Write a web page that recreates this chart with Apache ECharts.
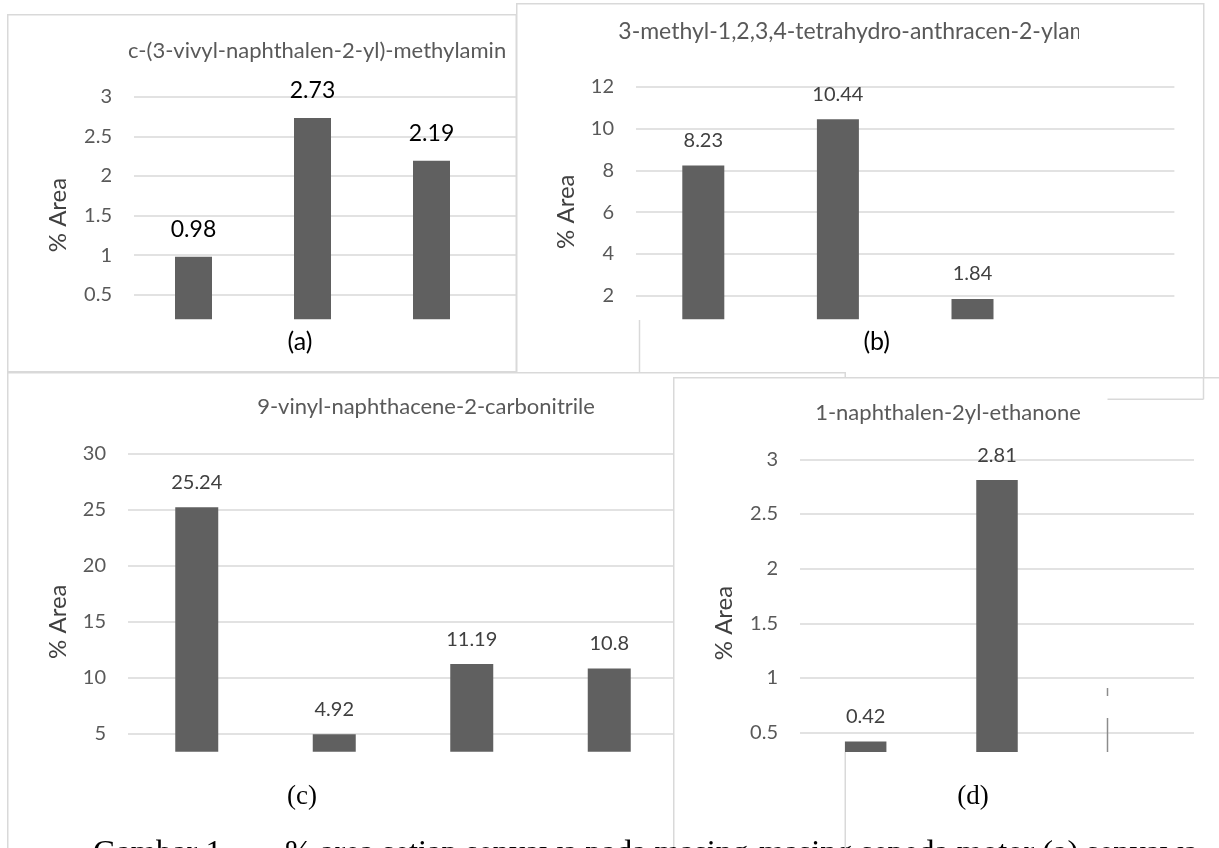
<!DOCTYPE html>
<html><head><meta charset="utf-8">
<script src="https://cdn.jsdelivr.net/npm/echarts@6/dist/echarts.min.js"></script>
<style>
html,body{margin:0;padding:0;background:#fff;width:1219px;height:848px;overflow:hidden;}
.p{position:absolute;}
</style></head><body>
<div id="pa" class="p" style="left:7px;top:14px;width:610px;height:358px;background:#fff"></div>
<div id="pb" class="p" style="left:516px;top:3px;width:690px;height:398px;background:#fff"></div>
<div id="pc" class="p" style="left:7px;top:372px;width:840px;height:476px;background:#fff"></div>
<div id="pd" class="p" style="left:673px;top:377px;width:546px;height:471px;background:#fff"></div>
<div id="ov" class="p" style="left:0;top:0;width:1219px;height:848px;pointer-events:none"></div>
<script>
// ---- data ----
const catsA = ['Motor 1', 'Motor 2', 'Motor 3', 'Motor 4'];
const valuesA = [0.98, 2.73, 2.19, '-'];
const catsB = ['Motor 1', 'Motor 2', 'Motor 3', 'Motor 4'];
const valuesB = [8.23, 10.44, 1.84, '-'];
const catsC = ['Motor 1', 'Motor 2', 'Motor 3', 'Motor 4'];
const valuesC = [25.24, 4.92, 11.19, 10.8];
const catsD = ['Motor 1', 'Motor 2', 'Motor 3'];
const valuesD = [0.42, 2.81, '-'];
const titleA = 'c-(3-vivyl-naphthalen-2-yl)-methylamin';
const titleB = '3-methyl-1,2,3,4-tetrahydro-anthracen-2-ylamine';
const titleC = '9-vinyl-naphthacene-2-carbonitrile';
const titleD = '1-naphthalen-2yl-ethanone';
const yName = '% Area';
const caption1 = 'Gambar 1.';
const caption2 = '% area setiap senyawa pada masing-masing sepeda motor (a) senyawa';

const SANS = 'Lato';
const SERIF = 'Liberation Serif';
const GRID = '#d9d9d9';

function line(x1, y1, x2, y2, color, w, z) {
  return {type: 'line', z: z || 120, silent: true,
    shape: {x1: x1, y1: y1, x2: x2, y2: y2},
    style: {stroke: color || GRID, lineWidth: w || 1.5}};
}
function txt(s, x, y, opt) {
  return Object.assign({type: 'text', z: 110, silent: true, x: x, y: y,
    style: Object.assign({text: s, fill: '#595959', font: '22px ' + SANS, align: 'center', verticalAlign: 'middle'}, opt.style || {})},
    opt.rotation ? {rotation: opt.rotation} : {});
}
function rect(x, y, w, h, z) {
  return {type: 'rect', z: z || 100, silent: true, shape: {x: x, y: y, width: w, height: h}, style: {fill: '#fff'}};
}

function panel(o) {
  return {
    animation: false,
    grid: {left: o.gl, top: o.gt, width: o.gw, height: o.gh},
    xAxis: {type: 'category', data: o.cats, boundaryGap: true,
      axisLine: {show: false}, axisTick: {show: false}, axisLabel: {show: false}, splitLine: {show: false}},
    yAxis: {type: 'value', min: 0, max: o.max, interval: o.interval,
      axisLine: {show: false}, axisTick: {show: false},
      axisLabel: {showMinLabel: false, margin: 22, color: '#595959', fontFamily: SANS, fontSize: o.tickSize},
      splitLine: {lineStyle: {color: GRID, width: 1.5}}},
    series: [{type: 'bar', data: o.values, barWidth: o.bw,
      itemStyle: {color: '#606060'},
      label: {show: true, position: 'top', distance: o.ld, color: o.lc, fontFamily: SANS, fontSize: o.ls}}],
    graphic: o.graphic
  };
}

const chA = echarts.init(document.getElementById('pa'));
chA.setOption(panel({
  cats: catsA, values: valuesA, max: 3, interval: 0.5,
  gl: 127, gt: 82.7, gw: 476, gh: 237.6, bw: 37, tickSize: 20, ld: 16, lc: '#000', ls: 23,
  graphic: [
    rect(115, 305.3, 495, 20),
    {type: 'rect', z: 120, silent: true, shape: {x: 0.75, y: 0.75, width: 508.5, height: 357}, style: {fill: 'none', stroke: GRID, lineWidth: 1.5}},
    txt(titleA, 121, 36.7, {style: {align: 'left'}}),
    txt(yName, 51.3, 201, {rotation: Math.PI / 2, style: {fill: '#404040', font: '24px ' + SANS}}),
    txt('(a)', 293, 327.7, {style: {fill: '#000', font: '25px ' + SANS}})
  ]
}));

const chB = echarts.init(document.getElementById('pb'));
chB.setOption(panel({
  cats: catsB, values: valuesB, max: 12, interval: 2,
  gl: 120, gt: 83.7, gw: 538.4, gh: 250.8, bw: 42, tickSize: 20, ld: 15, lc: '#404040', ls: 20,
  graphic: [
    rect(110, 316.3, 560, 22),
    txt(titleB, 102.3, 28.7, {style: {align: 'left', font: '23px ' + SANS}}),
    rect(563, 8, 121, 42, 115),
    {type: 'rect', z: 120, silent: true, shape: {x: 0.75, y: 0.75, width: 687, height: 395.5}, style: {fill: 'none', stroke: GRID, lineWidth: 1.5}},
    line(123.5, 317, 123.5, 369),
    txt(yName, 50.7, 208.7, {rotation: Math.PI / 2, style: {fill: '#404040', font: '24px ' + SANS}}),
    txt('(b)', 360.7, 338.7, {style: {fill: '#000', font: '25px ' + SANS}})
  ]
}));

const chC = echarts.init(document.getElementById('pc'));
chC.setOption(panel({
  cats: catsC, values: valuesC, max: 30, interval: 5,
  gl: 121, gt: 82, gw: 550, gh: 335.1, bw: 43, tickSize: 20, ld: 15, lc: '#404040', ls: 20,
  graphic: [
    rect(110, 379.7, 580, 45),
    line(0, 0.75, 838.25, 0.75),
    line(0.75, 0, 0.75, 476),
    line(838.25, 0, 838.25, 476),
    txt(titleC, 419, 34.7, {}),
    txt(yName, 51, 249.7, {rotation: Math.PI / 2, style: {fill: '#404040', font: '24px ' + SANS}}),
    txt('(c)', 295, 424.7, {style: {fill: '#000', font: '27px ' + SERIF}})
  ]
}));

const chD = echarts.init(document.getElementById('pd'));
chD.setOption(panel({
  cats: catsD, values: valuesD, max: 3, interval: 0.5,
  gl: 127, gt: 82.3, gw: 394, gh: 328.1, bw: 41.5, tickSize: 20, ld: 15, lc: '#404040', ls: 20,
  graphic: [
    rect(115, 375, 420, 40),
    line(0.75, 0, 0.75, 471),
    line(0, 0.75, 546, 0.75),
    txt(titleD, 275, 36.3, {}),
    txt(yName, 51, 246, {rotation: Math.PI / 2, style: {fill: '#404040', font: '24px ' + SANS}}),
    txt('(d)', 300, 419.7, {style: {fill: '#000', font: '27px ' + SERIF}})
  ]
}));

const chO = echarts.init(document.getElementById('ov'));
chO.setOption({
  animation: false,
  graphic: [
    line(845.25, 752, 845.25, 848),
    line(1107.5, 688, 1107.5, 696, '#8c8c8c', 1.5),
    line(1107.5, 718, 1107.5, 752, '#8c8c8c', 1.5),
    line(1107.5, 399.3, 1203.5, 399.3),
    line(1203.5, 377, 1203.5, 399.3),
    {type: 'text', z: 110, silent: true, x: 93, y: 853, style: {text: caption1, fill: '#000', font: '32.4px ' + SERIF, align: 'left', verticalAlign: 'middle'}},
    {type: 'text', z: 110, silent: true, x: 285, y: 853, style: {text: caption2, fill: '#000', font: '32.4px ' + SERIF, align: 'left', verticalAlign: 'middle'}}
  ]
});
</script>
</body></html>
